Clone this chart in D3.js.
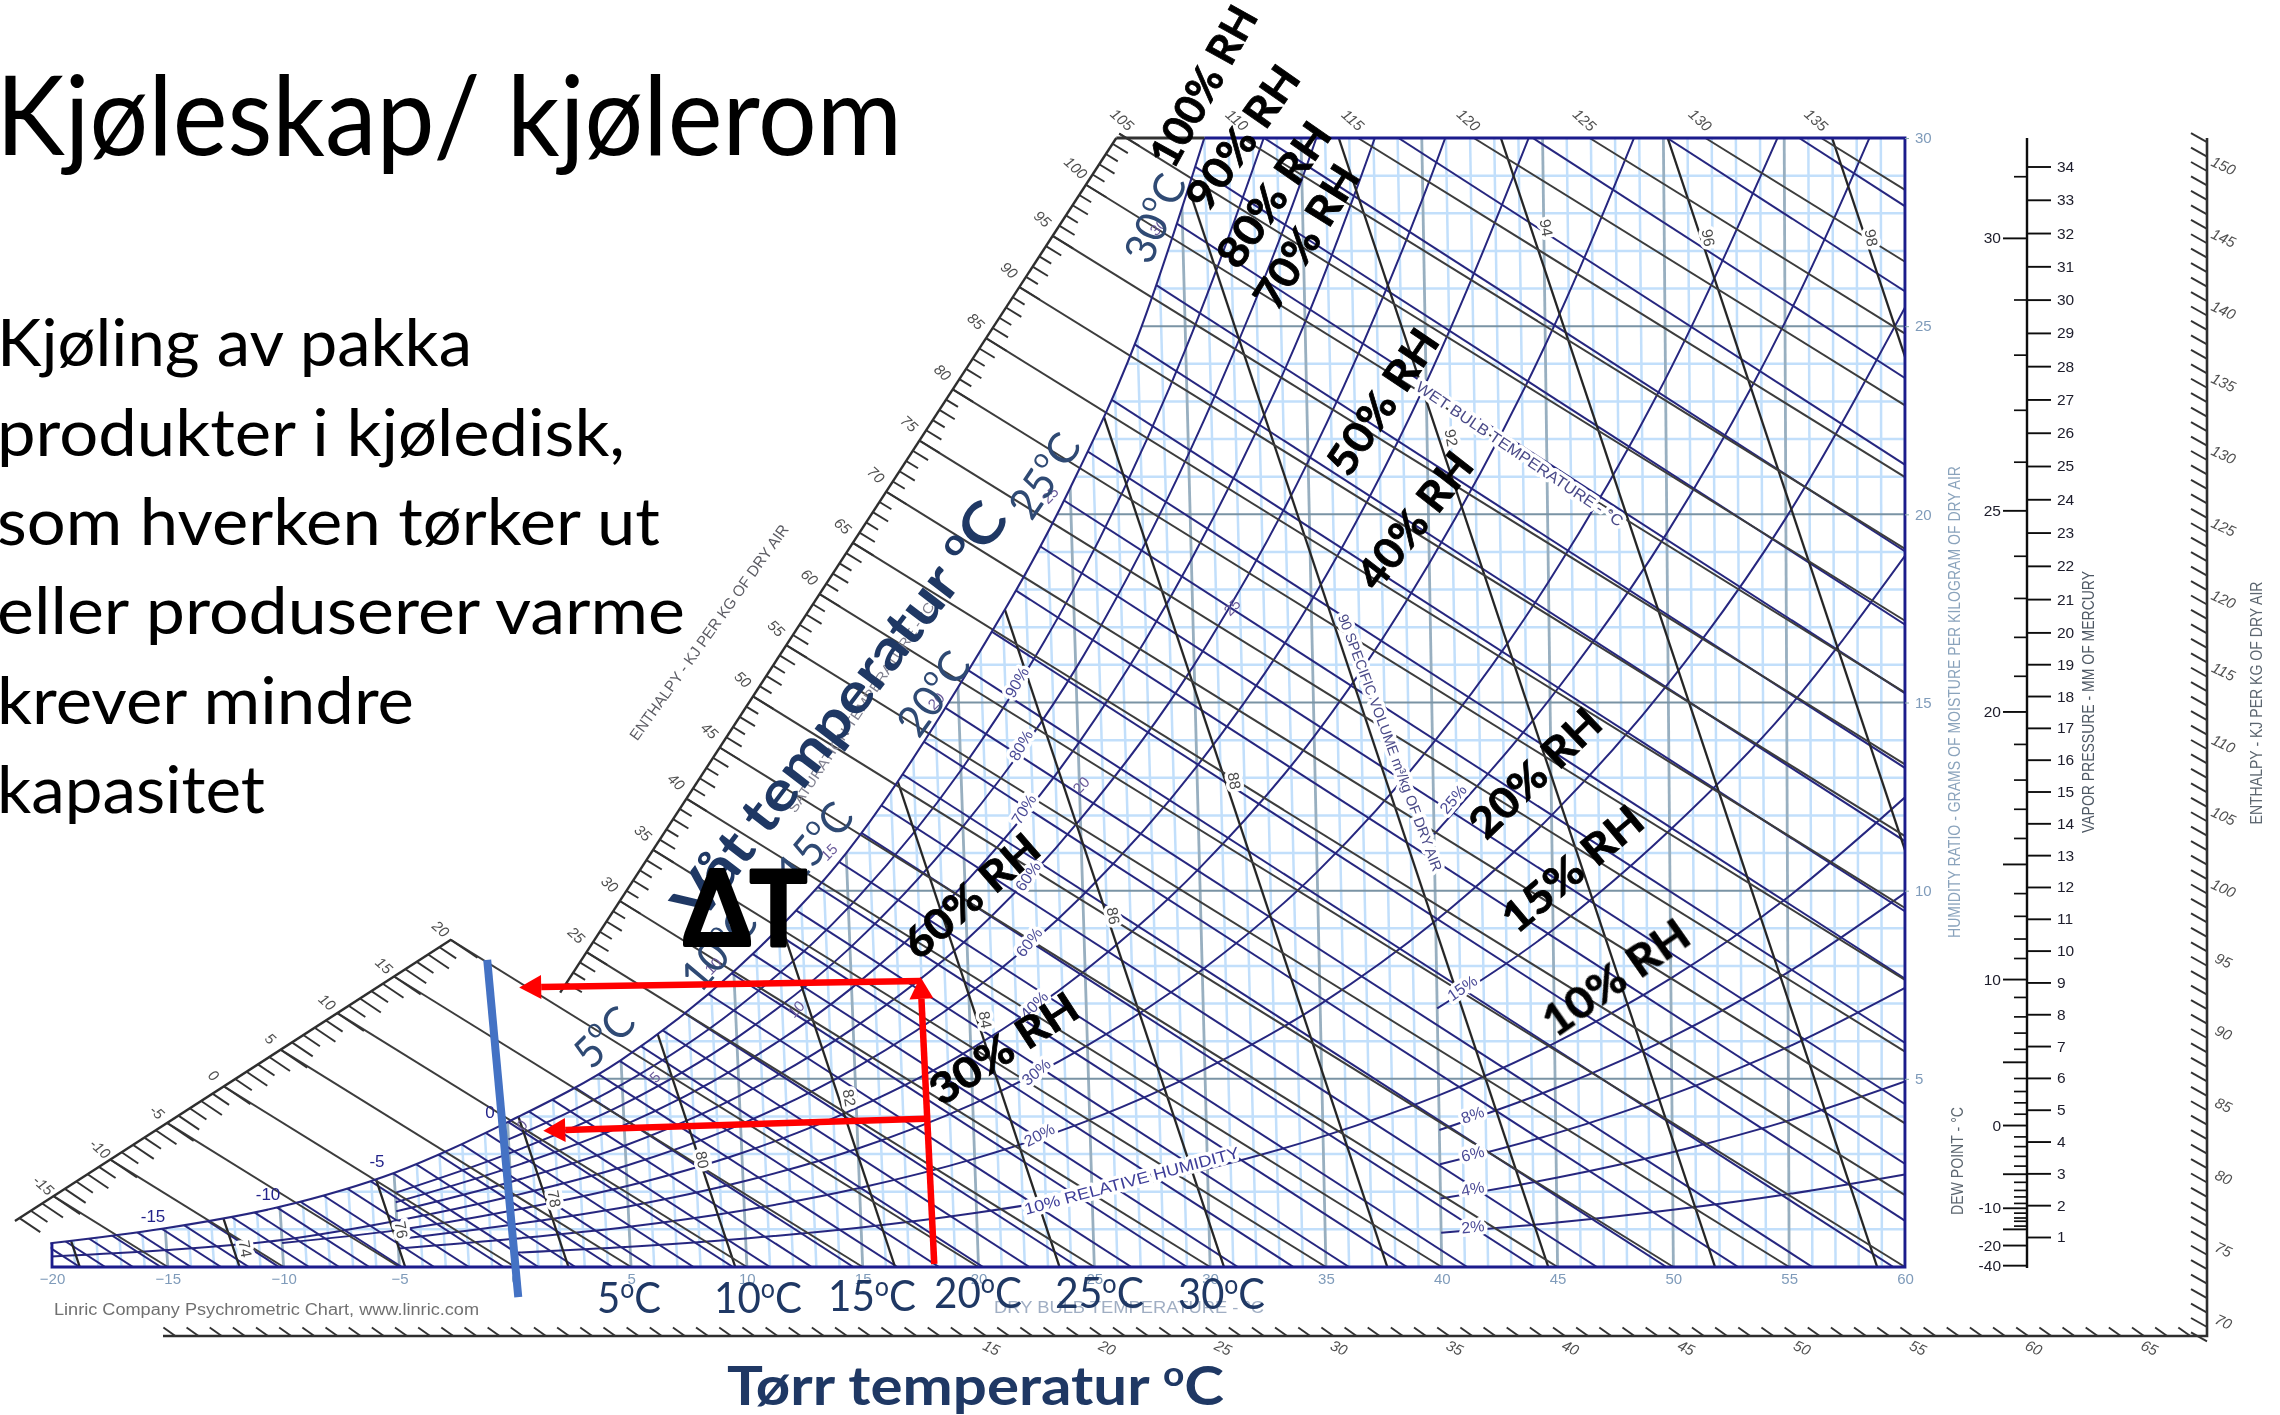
<!DOCTYPE html>
<html><head><meta charset="utf-8">
<style>
html,body{margin:0;padding:0;background:#fff;overflow:hidden}
svg{display:block}
text{font-family:"Liberation Sans",Arial,sans-serif}
.ov text, text.ov{font-family:Lato,"Open Sans",sans-serif}
</style>
<script src="https://cdnjs.cloudflare.com/ajax/libs/d3/7.8.5/d3.min.js"></script>
</head><body>
<svg id="c" width="2280" height="1415" viewBox="0 0 2280 1415"></svg>
<script>
// ---------- chart values ----------
const dryBulbTicks = [-20,-15,-10,-5,0,5,10,15,20,25,30,35,40,45,50,55,60];
const humidityTicks = [5,10,15,20,25,30];
const gridTemps = d3.range(-20,61,1);
const gridHumidity = d3.range(1,31,1);

const satTemps = [-20,-15,-10,-5,0,5,10,15,20,25,28,31];
const satHumidity = [0.63,1.03,1.6,2.5,3.85,5.5,7.85,11.0,15.4,20.7,24.7,30];

const rhTemps = [-20,-15,-10,-5,0,5,10,15,20,25,30,35,40,45,50,55,60];
const rh90 = [0.57,0.91,1.44,2.22,3.39,4.85,6.85,9.55,13.2,18.0,24.4,32.7];
const rh80 = [0.51,0.81,1.28,1.97,3.02,4.32,6.09,8.48,11.7,15.9,21.6,28.9,38.5];
const rh70 = [0.45,0.71,1.12,1.72,2.64,3.77,5.32,7.41,10.2,13.9,18.8,25.1,33.4];
const rh60 = [0.38,0.61,0.96,1.48,2.26,3.23,4.55,6.34,8.7,11.9,16.0,21.4,28.4,37.4];
const rh50 = [0.28,0.45,0.72,1.23,1.88,2.69,3.79,5.28,7.26,9.88,13.3,17.7,23.5,30.9];
const rh40 = [0.25,0.41,0.64,0.98,1.5,2.15,3.03,4.22,5.79,7.88,10.6,14.1,18.7,24.5,31.9];
const rh30 = [0.19,0.31,0.48,0.74,1.13,1.61,2.27,3.15,4.33,5.89,7.9,10.5,13.9,18.2,23.6,30.4];
const rh20 = [0.13,0.21,0.32,0.49,0.75,1.07,1.51,2.1,2.88,3.91,5.26,6.98,9.2,12.0,15.5,19.9,25.5];
const rh10 = [0.06,0.1,0.16,0.25,0.38,0.54,0.76,1.05,1.44,1.95,2.61,3.47,4.56,5.95,7.67,9.82,12.48];
// the coldest temperature each curve is printed from
const rhFirstTemp = [0,-5,-5,-5,-20,-10,-5,-5,0];
const rhTempsHigh = [40,45,50,55,60];
const rh25 = [11.5,15.1,19.5,25.1,32.2];
const rh15 = [6.87,8.96,11.6,14.8,18.9];
const rh08 = [3.64,4.75,6.11,7.83,9.94];
const rh06 = [2.73,3.55,4.58,5.85,7.42];
const rh04 = [1.82,2.37,3.05,3.89,4.93];
const rh02 = [0.91,1.18,1.52,1.94,2.46];

const enthalpyLower = [-15,-10,-5,0,5,10,15,20];
const enthalpyUpper = [25,30,35,40,45,50,55,60,65,70,75,80,85,90,95,100,105];
const enthalpyTop = [110,115,120,125,130,135];
const enthalpyRightLabels = [70,75,80,85,90,95,100,105,110,115,120,125,130,135,140,145,150];
const enthalpyBottomLabels = [15,20,25,30,35,40,45,50,55,60,65];

// wet-bulb lines: the temperature where each one meets the base line
const wetBulbFeet = [-18.8,-17.7,-16.5,-15.3,-14,-12.7,-11.5,-10.2,-8.9,-7.6,-6.3,-4.9,-3.5,-2,-0.5,1,2.6,4.2,5.9,7.7,9.4,11,12.8,14.6,16.5,18.3,20.2,22.2,24.3,26.6,29,31.2,33.6,36,38.5,41.1,44,46.7,49.7,52.8,56,59.5,63.1,66.9,70.9,75,79.3,83.8,88.5,93.4,98.4,103,107.9,113.7,119.5,125.3,131,136.9];

// specific-volume lines: label and foot on the base line
const volumeLabels = [72,74,76,78,80,82,84,86,88,90,92,94,96,98];
const volumeFeet = [-18.8,-11.9,-4.75,2.3,9.5,16.4,23.5,30.6,37.65,44.6,51.8,58.8,66,73.1];

const vaporTicks = d3.range(1,35,1);
const dewMajorLabels = [-40,-20,-10,0,10,20,25,30];
const dewMajorMm = [0.13,0.75,1.9,4.45,8.95,17.2,23.4,31.8];
const dewLongMm = [1.25,2.95,6.4,12.5];
const dewMinorMm = [1.35,1.5,1.6,1.75,2.05,2.25,2.45,2.7,3.2,3.5,3.8,4.1,4.8,5.15,5.5,5.9,6.8,7.3,7.8,8.4,9.6,10.2,10.9,11.6,13.3,14.2,15.1,16.2,18.3,19.5,20.7,22.0,24.9,26.5,28.2,29.9,33.7];

// process lines drawn on the chart, [temperature, humidity]
const coolingUp = [[18.09,0.08],[17.49,7.71]];
const coolingTop = [[17.49,7.6],[0.17,7.43]];
const coolingLow = [[17.7,3.94],[1.21,3.62]];
const blueLine = [[-1.21,8.16],[0.13,-0.8]];

// ---------- scales ----------
const svg = d3.select('#c');
const x = d3.scaleLinear().domain([-20,60]).range([52,1905]);
const y = d3.scaleLinear().domain([0,30]).range([1267,138]);
const dewY = d3.scaleLinear().domain([0,34]).range([1269.4,166.5]);
const vaporY = d3.scaleLinear().domain([1,20,34]).range([1237,632.4,166.5]);
const hRight = d3.scaleLinear().domain([70,150]).range([1327,171]);
const hBottom = d3.scaleLinear().domain([15,65]).range([986,2144]);
const SKEW = 0.0333, M_ENTH = 0.62, M_WB = 0.645, M_VOL = 3.0;
const Y0 = y(0), YT = y(30), XR = x(60), XL = x(-20);
const px = (T,w)=>x(T)-SKEW*(60-T)*w;

const NAVY='#27277f', BLK='#3c3c3c';
const defs = svg.append('defs');
const f = defs.append('filter').attr('id','soft').attr('x','-2%').attr('y','-2%').attr('width','104%').attr('height','104%');
f.append('feGaussianBlur').attr('stdDeviation',0.7);

svg.append('rect').attr('width',2280).attr('height',1415).attr('fill','#fff');
const chart = svg.append('g').attr('filter','url(#soft)');

const curve = d3.line().x(d=>px(d[0],d[1])).y(d=>y(d[1])).curve(d3.curveMonotoneX);
const satPts = satTemps.map((t,i)=>[t,satHumidity[i]]);
const satPath = curve(satPts);
defs.append('clipPath').attr('id','plot').append('path')
  .attr('d',satPath+`L${XR},${YT}L${XR},${Y0}L${XL},${Y0}Z`);
const clipped = chart.append('g').attr('clip-path','url(#plot)');

// light grid
clipped.selectAll('.gv').data(gridTemps.filter(t=>t%5)).join('line')
 .attr('x1',t=>px(t,0)).attr('y1',Y0).attr('x2',t=>px(t,30)).attr('y2',YT)
 .attr('stroke','#c2dffb').attr('stroke-width',2.5);
clipped.selectAll('.gh').data(gridHumidity.filter(w=>w%5)).join('line')
 .attr('x1',XL).attr('x2',XR).attr('y1',w=>y(w)).attr('y2',w=>y(w))
 .attr('stroke','#c2dffb').attr('stroke-width',2.5);
clipped.selectAll('.gv5').data(gridTemps.filter(t=>t%5===0)).join('line')
 .attr('x1',t=>px(t,0)).attr('y1',Y0).attr('x2',t=>px(t,30)).attr('y2',YT)
 .attr('stroke','#98afc0').attr('stroke-width',2.8);
clipped.selectAll('.gh5').data(gridHumidity.filter(w=>w%5===0)).join('line')
 .attr('x1',XL).attr('x2',XR).attr('y1',w=>y(w)).attr('y2',w=>y(w))
 .attr('stroke','#7a93a4').attr('stroke-width',2);

// wet-bulb lines
clipped.selectAll('.wb').data(wetBulbFeet).join('line')
 .attr('x1',t=>x(t)).attr('y1',Y0).attr('x2',t=>x(t)-(Y0-YT)/M_WB).attr('y2',YT)
 .attr('stroke',NAVY).attr('stroke-width',2);

// relative-humidity curves
const rhSeries = [rh90,rh80,rh70,rh60,rh50,rh40,rh30,rh20,rh10]
  .map((vals,k)=>vals.map((w,i)=>[rhTemps[i],w]).filter(d=>d[0]>=rhFirstTemp[k]))
  .concat([rh25,rh15,rh08,rh06,rh04,rh02].map(vals=>vals.map((w,i)=>[rhTempsHigh[i],w])));
clipped.selectAll('.rh').data(rhSeries).join('path')
 .attr('d',curve)
 .attr('fill','none').attr('stroke',NAVY).attr('stroke-width',2);

// specific-volume lines
clipped.selectAll('.vol').data(volumeFeet).join('line')
 .attr('x1',t=>x(t)).attr('y1',Y0).attr('x2',t=>x(t)-(Y0-YT)/M_VOL).attr('y2',YT)
 .attr('stroke','#262626').attr('stroke-width',2.3);

// enthalpy scale geometry
function meet(h,A,B){ // enthalpy line of level h against the straight scale A-B
  const X=x(h), ax=x(A[0]), ay=y(A[1]), bx=x(B[0]), by=y(B[1]);
  const s=(by-ay)/(bx-ax);
  const xi=((Y0-M_ENTH*X)-(ay-s*ax))/(s-M_ENTH);
  return [xi, Y0+M_ENTH*(xi-X)];
}
const lowerScale=[[-21.6,1.22],[-2.76,8.7]], upperScale=[[1.94,7.29],[25.95,30]];
function enthEnd(h){
  const X=x(h);
  return h<=60?[X,Y0]:[XR,Y0-M_ENTH*(X-XR)];
}
const enthStart = h=>{
  if(h<=20) return meet(h,...lowerScale);
  if(h<=105) return meet(h,...upperScale);
  return [x(h)-(Y0-YT)/M_ENTH,YT];
};
const enthAll=[...enthalpyLower,...enthalpyUpper,...enthalpyTop];
chart.selectAll('.en').data(enthAll).join('line')
 .attr('x1',h=>enthStart(h)[0]).attr('y1',h=>enthStart(h)[1])
 .attr('x2',h=>enthEnd(h)[0]).attr('y2',h=>enthEnd(h)[1])
 .attr('stroke',BLK).attr('stroke-width',2);

// saturation curve and frame
chart.append('path').attr('d',satPath).attr('fill','none').attr('stroke',NAVY).attr('stroke-width',2.1);
chart.append('path').attr('d',`M${px(31,30)},${YT}H${XR}V${Y0}H${XL}V${y(satHumidity[0])}`)
 .attr('fill','none').attr('stroke','#1d1d8c').attr('stroke-width',2.8);
chart.append('line').attr('x1',x(25.95)).attr('x2',px(31,30)).attr('y1',YT).attr('y2',YT).attr('stroke','#333').attr('stroke-width',2.8);

// enthalpy scales with ticks
function enthScale(A,B,h0,h1,dir,lens){
  const a=[x(A[0]),y(A[1])], b=[x(B[0]),y(B[1])];
  chart.append('line').attr('x1',a[0]).attr('y1',a[1]).attr('x2',b[0]).attr('y2',b[1]).attr('stroke','#2e2e2e').attr('stroke-width',2.4);
  const len=h=>h%5===0?lens[2]:(h%2===0?lens[1]:lens[0]);
  const ticks=d3.range(h0,h1+1).map(h=>({h,p:meet(h,A,B)}));
  chart.append('g').selectAll('line').data(ticks).join('line')
   .attr('x1',d=>d.p[0]).attr('y1',d=>d.p[1])
   .attr('x2',d=>d.p[0]+dir[0]*len(d.h))
   .attr('y2',d=>d.p[1]+dir[1]*len(d.h))
   .attr('stroke','#333').attr('stroke-width',1.9);
}
enthScale(...lowerScale,-18,20,[0.83,0.56],[20,25,32]);
enthScale(...upperScale,22,105,[0.85,0.52],[14,18,24]);

const hLbl = {fill:'#505050','font-size':15,'font-style':'italic','text-anchor':'middle','dominant-baseline':'middle'};
function attrs(sel,o){for(const k in o)sel.attr(k,o[k]);return sel;}
attrs(chart.selectAll('.hl').data(enthalpyLower).join('text')
 .attr('transform',h=>{const p=meet(h,...lowerScale);return `translate(${p[0]-11},${p[1]-10}) rotate(42)`;})
 .text(h=>h),hLbl);
attrs(chart.selectAll('.hu').data(enthalpyUpper).join('text')
 .attr('transform',h=>{const p=meet(h,...upperScale);const q=h===105?[2,-13]:[-11,-16];return `translate(${p[0]+q[0]},${p[1]+q[1]}) rotate(42)`;})
 .text(h=>h),hLbl);
attrs(chart.selectAll('.ht').data(enthalpyTop).join('text')
 .attr('transform',h=>`translate(${enthStart(h)[0]-6},${YT-17}) rotate(42)`)
 .text(h=>h),hLbl);

// right + bottom enthalpy scales
const RX=2207, BY=1336;
chart.append('path').attr('d',`M163,${BY}H${RX}V138`).attr('fill','none').attr('stroke','#2e2e2e').attr('stroke-width',2.6);
chart.selectAll('.tr').data(d3.range(69,153,1)).join('line')
 .attr('x1',RX).attr('x2',RX-16).attr('y1',h=>hRight(h)).attr('y2',h=>hRight(h)-9)
 .attr('stroke','#333').attr('stroke-width',1.9);
chart.selectAll('.tb').data(d3.range(-20,68,1)).join('line')
 .attr('x1',h=>hBottom(h)).attr('x2',h=>hBottom(h)-12).attr('y1',BY).attr('y2',BY-8.5)
 .attr('stroke','#333').attr('stroke-width',1.9);
attrs(chart.selectAll('.rl').data(enthalpyRightLabels).join('text')
 .attr('transform',h=>`translate(${RX+16},${hRight(h)-4}) rotate(25)`).text(h=>h),hLbl);
attrs(chart.selectAll('.bl').data(enthalpyBottomLabels).join('text')
 .attr('transform',h=>`translate(${hBottom(h)+5},${BY+13}) rotate(25)`).text(h=>h),hLbl);

// dry-bulb and humidity axes
const axB = chart.append('g').attr('transform',`translate(0,${Y0})`)
 .call(d3.axisBottom(x).tickValues(dryBulbTicks).tickSize(0).tickPadding(6));
axB.select('.domain').remove();
axB.selectAll('text').attr('font-size',15).attr('fill','#7f9bba').attr('font-family','"Liberation Sans",Arial,sans-serif');
const axR = chart.append('g').attr('transform',`translate(${XR},0)`)
 .call(d3.axisRight(y).tickValues(humidityTicks).tickSize(4).tickPadding(6));
axR.select('.domain').remove();
axR.selectAll('line').attr('stroke','#8aa');
axR.selectAll('text').attr('font-size',15).attr('fill','#7f9bba').attr('font-family','"Liberation Sans",Arial,sans-serif');

// vapour pressure / dew point scale
const AX=2027;
chart.append('line').attr('x1',AX).attr('x2',AX).attr('y1',138).attr('y2',1268).attr('stroke','#111').attr('stroke-width',2.4);
const axV=chart.append('g').attr('transform',`translate(${AX},0)`)
 .call(d3.axisRight(vaporY).tickValues(vaporTicks).tickSize(24).tickPadding(6).tickFormat(d3.format('d')));
axV.select('.domain').remove();
axV.selectAll('line').attr('stroke','#111').attr('stroke-width',1.9);
axV.selectAll('text').attr('font-size',15.5).attr('fill','#1c1c2a').attr('font-family','"Liberation Sans",Arial,sans-serif');
const axD=chart.append('g').attr('transform',`translate(${AX},0)`)
 .call(d3.axisLeft(dewY).tickValues(dewMajorMm).tickSize(24).tickPadding(2).tickFormat((d,i)=>dewMajorLabels[i]));
axD.select('.domain').remove();
axD.selectAll('line').attr('stroke','#111').attr('stroke-width',1.9);
axD.selectAll('text').attr('font-size',15.5).attr('fill','#1c1c2a').attr('font-family','"Liberation Sans",Arial,sans-serif');
const axL=chart.append('g').attr('transform',`translate(${AX},0)`)
 .call(d3.axisLeft(dewY).tickValues(dewLongMm).tickSize(24).tickFormat(''));
axL.select('.domain').remove(); axL.selectAll('line').attr('stroke','#111').attr('stroke-width',1.9);
const axM=chart.append('g').attr('transform',`translate(${AX},0)`)
 .call(d3.axisLeft(dewY).tickValues(dewMinorMm).tickSize(13).tickFormat(''));
axM.select('.domain').remove(); axM.selectAll('line').attr('stroke','#111').attr('stroke-width',1.7);

// ---------- printed chart texts ----------
function T(g,s,cx,cy,rot,o={}){
  const t=g.append('text').attr('transform',`translate(${cx},${cy}) rotate(${rot})`)
   .attr('text-anchor','middle').attr('dominant-baseline','middle').text(s);
  attrs(t,o);return t;
}
const haloBox={stroke:'#fff','stroke-width':7,'paint-order':'stroke','stroke-linejoin':'round'};
const rhLabels=[['90%',1018,683,-60],['80%',1022,746,-60],['70%',1025,810,-58],['60%',1029,877,-55],['60%',1030,943,-52],['40%',1035,1006,-45],['30%',1037,1073,-40],['20%',1040,1136,-28],
 ['25%',1454,800,-50],['15%',1463,989,-35],['8%',1473,1116,-20],['6%',1473,1155,-14],['4%',1473,1190,-10],['2%',1473,1228,-6]];
rhLabels.forEach(d=>T(chart,d[0],d[1],d[2],d[3],{...haloBox,fill:'#4a4a96','font-size':16}));
T(chart,'10% RELATIVE HUMIDITY',1132,1182,-15,{...haloBox,fill:'#3c3c98','font-size':16,textLength:222,lengthAdjust:'spacingAndGlyphs'});
T(chart,'WET BULB TEMPERATURE - °C',1519,455,34,{...haloBox,fill:'#4a4a88','font-size':15.5,textLength:246,lengthAdjust:'spacingAndGlyphs'});
T(chart,'90 SPECIFIC VOLUME m³/kg OF DRY AIR',1389,743,69.6,{...haloBox,fill:'#4a4a88','font-size':14.5,textLength:273,lengthAdjust:'spacingAndGlyphs'});
T(chart,'SATURATION TEMPERATURE - °C',862,708,-56,{fill:'#80808f','font-size':14,textLength:250,lengthAdjust:'spacingAndGlyphs'});
const volPlace=[null,[244,1249],[400,1230],[553,1199],[701,1160],[848,1098],[984,1020],[1112,916],[1233,781],null,[1450,438],[1545,228],[1707,238],[1870,238]];
volumeLabels.forEach((v,i)=>{const p=volPlace[i]; if(p) T(chart,v,p[0],p[1],80,{...haloBox,fill:'#4a4a4a','font-size':15.5});});
[['-15',153,1218],['-10',268,1196],['-5',377,1163],['0',490,1114]].forEach(d=>T(chart,d[0],d[1],d[2],0,{fill:'#24248a','font-size':17}));
[['0',523,1126],['5',656,1078],['10',797,1010],['10',714,967],['15',830,853],['20',937,702],['20',1082,786],['25',1051,496],['25',1233,608],['30',1159,228]]
 .forEach(d=>T(chart,d[0],d[1],d[2],-45,{fill:'#6a5a9a','font-size':15}));
const vt=(s,cx,cy,len,fill,sz=15)=>T(chart,s,cx,cy,-90,{fill,'font-size':sz,textLength:len,lengthAdjust:'spacingAndGlyphs'});
vt('HUMIDITY RATIO - GRAMS OF MOISTURE PER KILOGRAM OF DRY AIR',1956,702,472,'#8aa3bc',17);
vt('DEW POINT - °C',1959,1161,108,'#5c666f',17);
vt('VAPOR PRESSURE - MM OF MERCURY',2090,702,262,'#4e5864',17);
vt('ENTHALPY - KJ PER KG OF DRY AIR',2258,703,243,'#5c666f',17);
T(chart,'ENTHALPY - KJ PER KG OF DRY AIR',710,633,-54.4,{fill:'#5c5c64','font-size':15.5,textLength:261,lengthAdjust:'spacingAndGlyphs'});
chart.append('text').attr('x',54).attr('y',1315).attr('fill','#707070').attr('font-size',16).attr('textLength',425).attr('lengthAdjust','spacingAndGlyphs').text('Linric Company Psychrometric Chart, www.linric.com');
chart.append('text').attr('x',994).attr('y',1313).attr('fill','#a0aec3').attr('font-size',16).attr('textLength',270).attr('lengthAdjust','spacingAndGlyphs').text('DRY BULB TEMPERATURE - °C');

// ---------- overlay ----------
const ov=svg.append('g').attr('class','ov');
function line(s,xx,yy,len,size){
  ov.append('text').attr('x',xx).attr('y',yy).attr('fill','#000').attr('font-size',size)
   .attr('textLength',len).attr('lengthAdjust','spacingAndGlyphs').text(s);
}
line('Kjøleskap/ kjølerom',-4,155,906,110);
[['Kjøling av pakka',366,472],['produkter i kjøledisk,',456,625],['som hverken tørker ut',545,660],['eller produserer varme',634,685],['krever mindre',724,414],['kapasitet',813,265]]
 .forEach(d=>line(d[0],-3,d[1],d[2]+3,65));

function degree(g,lead,size,opts){
  const t=g.append('text').attr('font-size',size).attr('fill',opts.fill).attr('font-weight',opts.weight||400);
  if(opts.transform) t.attr('transform',opts.transform);
  if(opts.x!==undefined) t.attr('x',opts.x).attr('y',opts.y);
  if(opts.anchor) t.attr('text-anchor',opts.anchor);
  if(opts.len) t.attr('textLength',opts.len).attr('lengthAdjust','spacingAndGlyphs');
  t.append('tspan').text(lead);
  t.append('tspan').attr('font-size',size*0.62).attr('dy',-size*0.36).text('o');
  t.append('tspan').attr('dy',size*0.36).text('C');
  return t;
}
const navy='#1f3864';
[['5',597,1313,64],['10',714,1313,88],['15',828,1311,88],['20',934,1308,88],['25',1055,1308,89],['30',1178,1309,87]]
 .forEach(d=>degree(ov,d[0],43,{fill:navy,x:d[1],y:d[2],len:d[3]}));
[['5',607,1040,-45],['10',722,952,-50],['15',818,846,-50],['20',937,696,-54],['25',1048,478,-56],['30',1159,220,-66]]
 .forEach(d=>degree(ov,d[0],43,{fill:'#2f4a74',transform:`translate(${d[1]},${d[2]}) rotate(${d[3]})`,anchor:'middle',len:d[0].length>1?92:66}).attr('dominant-baseline','middle'));
degree(ov,'Tørr temperatur ',54,{fill:navy,weight:700,x:727,y:1405,len:497});
degree(ov,'Våt temperatur ',56,{fill:navy,weight:700,transform:'translate(700,925) rotate(-52.5)',len:510});

ov.append('text').attr('x',684).attr('y',945).attr('font-family','"Open Sans",sans-serif').attr('font-weight',700).attr('font-size',103)
 .attr('textLength',123).attr('lengthAdjust','spacingAndGlyphs').attr('fill','#000').attr('stroke','#000').attr('stroke-width',4).attr('stroke-linejoin','round').text('ΔT');

const rhBig=[['100% RH',1207,88,-61,176],['90% RH',1246,140,-55,165],['80% RH',1277,197,-55,166],['70% RH',1310,239,-58,160],['50% RH',1386,404,-56,165],['40% RH',1418,523,-52,160],['60% RH',974,899,-41,165],['30% RH',1006,1052,-33,168],['20% RH',1538,776,-44,165],['15% RH',1575,872,-40,170],['10% RH',1618,981,-35,168]];
rhBig.forEach(d=>{
 ov.append('text').attr('transform',`translate(${d[1]},${d[2]}) rotate(${d[3]})`)
  .attr('text-anchor','middle').attr('dominant-baseline','middle').attr('font-family','"Open Sans",sans-serif')
  .attr('font-weight',700).attr('font-size',42).attr('fill','#000').attr('stroke','#000').attr('stroke-width',0.8)
  .attr('textLength',d[4]).attr('lengthAdjust','spacingAndGlyphs').text(d[0]);
});

// process arrows
const P=p=>[x(p[0]),y(p[1])];
const ln=d3.line();
const ar=svg.append('g');
function arrow(pts,color){
  const a=P(pts[0]), b=P(pts[1]);
  const ang=Math.atan2(b[1]-a[1],b[0]-a[0]), hl=22, hw=12;
  const base=[b[0]-hl*Math.cos(ang),b[1]-hl*Math.sin(ang)];
  ar.append('path').attr('d',ln([a,base])).attr('stroke',color).attr('stroke-width',6.5).attr('fill','none');
  ar.append('path').attr('d',ln([b,[base[0]-hw*Math.sin(ang),base[1]+hw*Math.cos(ang)],[base[0]+hw*Math.sin(ang),base[1]-hw*Math.cos(ang)]])+'Z').attr('fill',color);
}
arrow(coolingUp,'#ff0000');
arrow(coolingTop,'#ff0000');
arrow(coolingLow,'#ff0000');
ar.append('path').attr('d',ln(blueLine.map(P))).attr('stroke','#4472c4').attr('stroke-width',8).attr('fill','none');
</script>
</body></html>
